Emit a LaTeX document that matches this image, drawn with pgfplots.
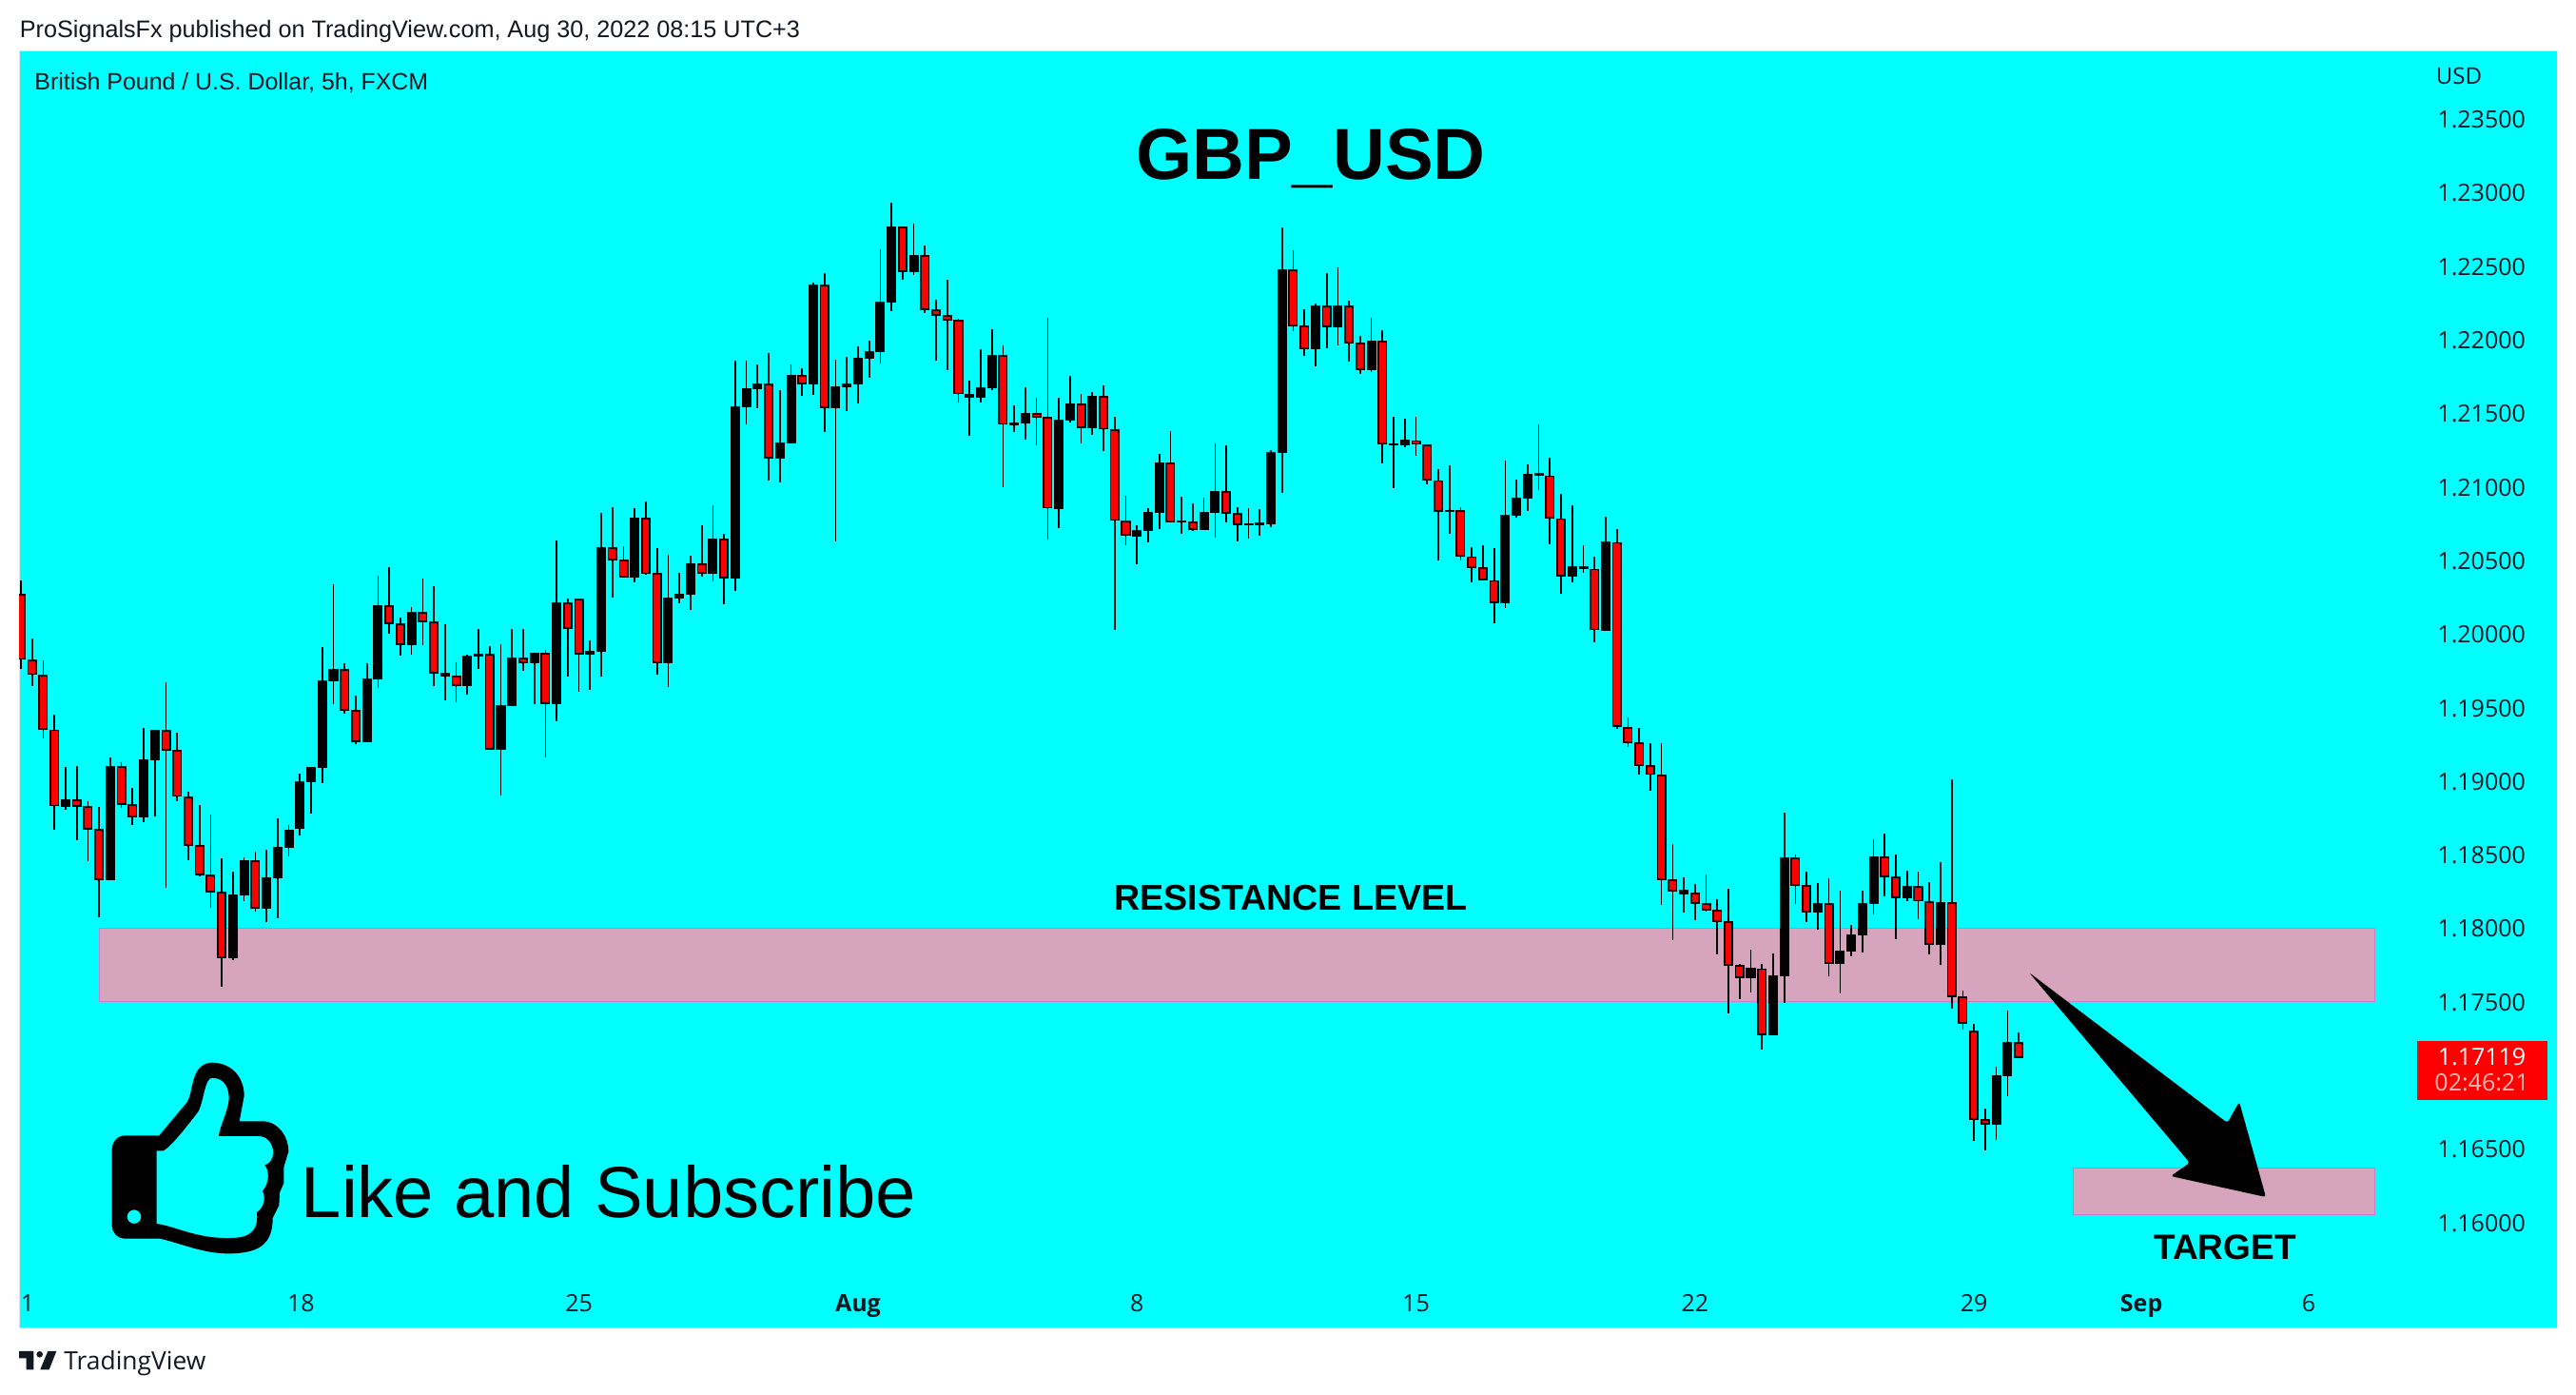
\documentclass[border=0pt]{standalone}
\usepackage{fontspec}
\usepackage{pgfplots}
\usepackage{pgfplotstable}
\pgfplotsset{compat=1.18}
\setmainfont{Liberation Sans}
\newfontfamily\tickfont{Open Sans}
\definecolor{tvcyan}{HTML}{00FFFF}
\definecolor{tvink}{HTML}{131722}
\definecolor{tvband}{HTML}{D6A5BD}
\definecolor{tvbandedge}{HTML}{C97FC6}
\definecolor{tvedge}{HTML}{E0E3EB}
\definecolor{tvtimer}{HTML}{FFB8B8}

% 5h candles, body edges are top/bot, wicks high/low
\pgfplotstableread{
x col high top bot low
0 red 1.20359 1.20261 1.19825 1.19760
1 red 1.19962 1.19815 1.19722 1.19643
2 red 1.19813 1.19711 1.19351 1.19287
3 red 1.19445 1.19340 1.18829 1.18666
4 black 1.19089 1.18866 1.18825 1.18802
5 red 1.19096 1.18866 1.18827 1.18595
6 red 1.18856 1.18818 1.18672 1.18453
7 red 1.18817 1.18663 1.18329 1.18071
8 black 1.19154 1.19092 1.18327 1.18321
9 red 1.19121 1.19090 1.18840 1.18815
10 red 1.18947 1.18831 1.18756 1.18699
11 black 1.19354 1.19138 1.18754 1.18718
12 black 1.19343 1.19338 1.19142 1.18757
13 red 1.19665 1.19336 1.19209 1.18272
14 red 1.19322 1.19200 1.18894 1.18860
15 red 1.18921 1.18883 1.18562 1.18460
16 red 1.18830 1.18553 1.18361 1.18350
17 red 1.18766 1.18353 1.18245 1.18136
18 red 1.18468 1.18236 1.17799 1.17599
19 black 1.18378 1.18219 1.17799 1.17780
20 black 1.18475 1.18452 1.18223 1.18181
21 red 1.18513 1.18450 1.18135 1.18110
22 black 1.18526 1.18336 1.18133 1.18039
23 black 1.18740 1.18542 1.18340 1.18065
24 black 1.18694 1.18659 1.18547 1.18485
25 black 1.19044 1.18989 1.18676 1.18628
26 black 1.19089 1.19084 1.18993 1.18776
27 black 1.19904 1.19674 1.19090 1.18983
28 black 1.20331 1.19752 1.19679 1.19520
29 red 1.19794 1.19750 1.19480 1.19456
30 red 1.19574 1.19472 1.19267 1.19249
31 black 1.19794 1.19687 1.19265 1.19259
32 black 1.20389 1.20185 1.19692 1.19630
33 red 1.20447 1.20183 1.20069 1.19999
34 red 1.20105 1.20060 1.19927 1.19850
35 black 1.20176 1.20140 1.19924 1.19857
36 red 1.20370 1.20138 1.20082 1.19921
37 red 1.20318 1.20073 1.19733 1.19643
38 black 1.20059 1.19726 1.19711 1.19546
39 red 1.19801 1.19705 1.19649 1.19533
40 black 1.19852 1.19843 1.19646 1.19585
41 black 1.20029 1.19856 1.19847 1.19758
42 red 1.19913 1.19856 1.19213 1.19208
43 black 1.19926 1.19507 1.19213 1.18898
44 black 1.20029 1.19830 1.19511 1.19506
45 red 1.20029 1.19830 1.19802 1.19745
46 black 1.19868 1.19862 1.19802 1.19518
47 red 1.19887 1.19862 1.19524 1.19156
48 black 1.20630 1.20205 1.19524 1.19402
49 red 1.20236 1.20205 1.20035 1.19706
50 red 1.20236 1.20231 1.19860 1.19603
51 black 1.19952 1.19877 1.19860 1.19615
52 black 1.20818 1.20580 1.19880 1.19706
53 red 1.20855 1.20578 1.20502 1.20245
54 red 1.20589 1.20494 1.20386 1.20380
55 black 1.20848 1.20780 1.20386 1.20348
56 red 1.20893 1.20778 1.20407 1.20398
57 red 1.20577 1.20403 1.19802 1.19719
58 black 1.20531 1.20237 1.19802 1.19635
59 black 1.20408 1.20265 1.20241 1.20206
60 black 1.20525 1.20470 1.20267 1.20160
61 red 1.20732 1.20468 1.20412 1.20387
62 black 1.20868 1.20638 1.20407 1.20354
63 red 1.20674 1.20636 1.20379 1.20199
64 black 1.21851 1.21537 1.20377 1.20290
65 black 1.21851 1.21660 1.21541 1.21422
66 black 1.21825 1.21692 1.21664 1.21532
67 red 1.21902 1.21690 1.21194 1.21040
68 black 1.21650 1.21291 1.21192 1.21027
69 black 1.21825 1.21750 1.21296 1.21290
70 red 1.21799 1.21748 1.21699 1.21616
71 black 1.22381 1.22365 1.21697 1.21622
72 red 1.22446 1.22363 1.21537 1.21370
73 black 1.21857 1.21673 1.21535 1.20626
74 black 1.21877 1.21692 1.21677 1.21512
75 black 1.21948 1.21867 1.21697 1.21564
76 black 1.21987 1.21912 1.21871 1.21739
77 black 1.22607 1.22249 1.21916 1.21836
78 black 1.22924 1.22759 1.22253 1.22191
79 red 1.22763 1.22757 1.22462 1.22405
80 black 1.22782 1.22565 1.22460 1.22437
81 red 1.22633 1.22563 1.22203 1.22178
82 red 1.22265 1.22195 1.22165 1.21855
83 red 1.22401 1.22156 1.22132 1.21791
84 red 1.22136 1.22124 1.21630 1.21571
85 black 1.21715 1.21621 1.21606 1.21344
86 black 1.21929 1.21667 1.21606 1.21571
87 black 1.22065 1.21887 1.21671 1.21655
88 red 1.21955 1.21884 1.21423 1.20995
89 black 1.21547 1.21427 1.21419 1.21370
90 black 1.21670 1.21492 1.21432 1.21319
91 red 1.21599 1.21492 1.21473 1.21280
92 red 1.22142 1.21464 1.20854 1.20639
93 black 1.21599 1.21447 1.20850 1.20717
94 black 1.21748 1.21557 1.21451 1.21435
95 red 1.21625 1.21555 1.21402 1.21293
96 black 1.21638 1.21609 1.21399 1.21351
97 red 1.21683 1.21606 1.21391 1.21241
98 red 1.21469 1.21380 1.20770 1.20025
99 red 1.20933 1.20759 1.20671 1.20601
100 black 1.20732 1.20697 1.20662 1.20471
101 black 1.20849 1.20819 1.20701 1.20620
102 black 1.21217 1.21156 1.20824 1.20711
103 red 1.21372 1.21154 1.20761 1.20756
104 black 1.20926 1.20760 1.20756 1.20678
105 red 1.20881 1.20753 1.20709 1.20698
106 black 1.20920 1.20819 1.20707 1.20702
107 black 1.21288 1.20962 1.20824 1.20652
108 red 1.21275 1.20960 1.20819 1.20756
109 red 1.20855 1.20811 1.20742 1.20626
110 black 1.20849 1.20744 1.20737 1.20646
111 black 1.20842 1.20747 1.20741 1.20665
112 black 1.21243 1.21227 1.20746 1.20724
113 black 1.22757 1.22469 1.21231 1.20956
114 red 1.22601 1.22467 1.22094 1.22056
115 red 1.22200 1.22085 1.21938 1.21888
116 black 1.22239 1.22223 1.21936 1.21817
117 red 1.22446 1.22221 1.22087 1.21939
118 black 1.22485 1.22223 1.22085 1.21959
119 red 1.22259 1.22221 1.21977 1.21849
120 red 1.22019 1.21969 1.21796 1.21765
121 black 1.22142 1.21984 1.21794 1.21778
122 red 1.22058 1.21981 1.21292 1.21157
123 black 1.21474 1.21287 1.21280 1.20989
124 black 1.21458 1.21309 1.21284 1.21264
125 red 1.21474 1.21307 1.21286 1.21209
126 red 1.21280 1.21275 1.21046 1.21015
127 red 1.21114 1.21034 1.20833 1.20497
128 black 1.21139 1.20835 1.20828 1.20677
129 red 1.20858 1.20829 1.20529 1.20497
130 red 1.20585 1.20517 1.20450 1.20347
131 red 1.20597 1.20441 1.20367 1.20361
132 red 1.20578 1.20355 1.20212 1.20070
133 black 1.21172 1.20799 1.20210 1.20174
134 black 1.21042 1.20917 1.20803 1.20788
135 black 1.21146 1.21078 1.20921 1.20832
136 black 1.21417 1.21082 1.21073 1.20975
137 red 1.21190 1.21067 1.20787 1.20606
138 red 1.20945 1.20776 1.20392 1.20269
139 black 1.20867 1.20450 1.20392 1.20347
140 black 1.20597 1.20453 1.20442 1.20412
141 red 1.20518 1.20434 1.20025 1.19941
142 black 1.20791 1.20619 1.20023 1.20017
143 red 1.20705 1.20614 1.19367 1.19349
144 red 1.19425 1.19355 1.19260 1.19229
145 red 1.19354 1.19251 1.19105 1.19042
146 red 1.19250 1.19096 1.19043 1.18931
147 red 1.19250 1.19032 1.18329 1.18155
148 red 1.18565 1.18320 1.18251 1.17916
149 black 1.18338 1.18250 1.18233 1.18103
150 red 1.18293 1.18230 1.18167 1.18052
151 red 1.18358 1.18158 1.18122 1.18110
152 red 1.18190 1.18113 1.18044 1.17819
153 red 1.18261 1.18035 1.17747 1.17418
154 red 1.17750 1.17738 1.17662 1.17515
155 black 1.17847 1.17721 1.17660 1.17560
156 red 1.17750 1.17716 1.17274 1.17172
157 black 1.17821 1.17669 1.17272 1.17267
158 black 1.18778 1.18471 1.17673 1.17489
159 red 1.18494 1.18469 1.18290 1.18162
160 red 1.18377 1.18281 1.18109 1.18039
161 black 1.18300 1.18161 1.18107 1.17987
162 red 1.18332 1.18158 1.17760 1.17670
163 black 1.18248 1.17837 1.17757 1.17554
164 black 1.18015 1.17947 1.17841 1.17806
165 black 1.18248 1.18161 1.17951 1.17832
166 black 1.18597 1.18477 1.18165 1.18090
167 red 1.18636 1.18475 1.18348 1.18213
168 red 1.18494 1.18339 1.18206 1.17922
169 black 1.18384 1.18277 1.18204 1.18181
170 red 1.18377 1.18275 1.18182 1.18058
171 red 1.18306 1.18171 1.17889 1.17819
172 black 1.18442 1.18167 1.17887 1.17748
173 red 1.19005 1.18165 1.17533 1.17450
174 red 1.17569 1.17525 1.17352 1.17308
175 red 1.17342 1.17292 1.16699 1.16551
176 red 1.16767 1.16690 1.16666 1.16486
177 black 1.17051 1.16990 1.16666 1.16558
178 black 1.17433 1.17216 1.16994 1.16855
179 red 1.17284 1.17214 1.17119 1.17114
}\candles

\pgfplotsset{
  wick/.style={draw=black, line width=0.85pt, forget plot},
  body/.style={draw=black, line width=0.85pt, fill=#1, forget plot},
  band/.style={fill=tvband, draw=tvbandedge, line width=0.4pt, forget plot},
}

\begin{document}
\begin{tikzpicture}
\path[use as bounding box, fill=white] (0,0) rectangle (1354pt,733pt);
\begin{axis}[
    at={(10pt,35pt)}, anchor=south west,
    scale only axis, width=1334pt, height=671pt,
    xmin=-0.17, xmax=227.24,
    ymin=1.15275, ymax=1.23955,
    axis background/.style={fill=tvcyan},
    axis line style={draw=tvedge, line width=0.5pt},
    major tick length=0, tick style={draw=none},
    xtick={0.6,25.1,50,75,100,125,150,175,190,205},
    xticklabels={1,18,25,\textbf{Aug},8,15,22,29,\textbf{Sep},6},
    ytick={1.16,1.165,1.175,1.18,1.185,1.19,1.195,1.2,1.205,1.21,1.215,1.22,1.225,1.23,1.235},
    yticklabels={1.16000,1.16500,1.17500,1.18000,1.18500,1.19000,1.19500,1.20000,1.20500,1.21000,1.21500,1.22000,1.22500,1.23000,1.23500},
    yticklabel pos=right,
    tick label style={font=\tickfont\fontsize{12.5pt}{15pt}\selectfont, text=tvink, inner sep=0pt},
    yticklabel style={anchor=west, xshift=-63pt, yshift=-0.7pt},
    xticklabel style={anchor=base, yshift=8.75pt},
  ]
\addplot[band] coordinates {(7,1.175) (210.9,1.175) (210.9,1.17995) (7,1.17995)} -- cycle;
\addplot[band] coordinates {(183.85,1.16051) (210.9,1.16051) (210.9,1.16364) (183.85,1.16364)} -- cycle;
\pgfplotsinvokeforeach{0,...,179}{
  \pgfplotstablegetelem{#1}{col}\of\candles\let\cc\pgfplotsretval
  \pgfplotstablegetelem{#1}{high}\of\candles\let\ch\pgfplotsretval
  \pgfplotstablegetelem{#1}{top}\of\candles\let\ct\pgfplotsretval
  \pgfplotstablegetelem{#1}{bot}\of\candles\let\cb\pgfplotsretval
  \pgfplotstablegetelem{#1}{low}\of\candles\let\cl\pgfplotsretval
  \pgfmathsetmacro\xl{#1-0.355}
  \pgfmathsetmacro\xr{#1+0.355}
  \edef\tmp{\noexpand\addplot[wick] coordinates {(#1,\cl) (#1,\ch)};
    \noexpand\addplot[body=\cc] coordinates {(\xl,\cb) (\xr,\cb) (\xr,\ct) (\xl,\ct)} -- cycle;}
  \tmp
}
\end{axis}

% everything below in reference pixels
\begin{scope}[yshift=733pt, x=0.5pt, y=-0.5pt]
  \node[anchor=west, inner sep=0pt, text=tvink, font=\fontsize{12.6pt}{15pt}\selectfont] at (20.5,33.5)
    {ProSignalsFx published on TradingView.com, Aug 30, 2022 08:15 UTC+3};
  \node[anchor=west, inner sep=0pt, text=tvink, font=\fontsize{12.45pt}{15pt}\selectfont] at (36,87)
    {British Pound / U.S. Dollar, 5h, FXCM};
  \node[anchor=center, inner sep=0pt, text=tvink, font=\tickfont\fontsize{12pt}{15pt}\selectfont] at (2585,80) {USD};
  \node[inner sep=0pt, font=\bfseries\fontsize{38pt}{44pt}\selectfont] at (1378,167) {GBP\_USD};
  \node[inner sep=0pt, font=\bfseries\fontsize{18.8pt}{22pt}\selectfont] at (1357,943.5) {RESISTANCE LEVEL};
  \node[inner sep=0pt, font=\bfseries\fontsize{18.5pt}{22pt}\selectfont] at (2339,1310.5) {TARGET};
  \node[inner sep=0pt, font=\fontsize{38pt}{46pt}\selectfont] at (640,1252) {Like and Subscribe};
  % arrow
  \fill[black, rounded corners=1.5pt] (2133,1022) -- (2341.5,1180) -- (2354,1158) -- (2382,1258)
    -- (2282,1236) -- (2302,1222) -- cycle;
  % last price tag
  \fill[red] (2540.5,1094) rectangle (2677.5,1156);
  \node[inner sep=0pt, text=white, font=\tickfont\fontsize{12.5pt}{15pt}\selectfont] at (2609,1111) {1.17119};
  \node[inner sep=0pt, text=tvtimer, font=\tickfont\fontsize{12.5pt}{15pt}\selectfont] at (2609,1138) {02:46:21};
  % tradingview logo and name
  \fill[tvink] (20,1420) -- (35.3,1420) -- (35.3,1439.3) -- (27.7,1439.3) -- (27.7,1427.3) -- (20,1427.3) -- cycle;
  \fill[tvink] (41.7,1423.3) circle (3.3);
  \fill[tvink] (50.3,1420) -- (59.3,1420) -- (51.7,1439.3) -- (42.3,1439.3) -- cycle;
  \node[anchor=west, inner sep=0pt, text=tvink, font=\tickfont\fontsize{13.2pt}{16pt}\selectfont] at (67,1433) {TradingView};
\end{scope}
% thumb icon, coordinates are 3x pixels
\begin{scope}[xshift=40pt, yshift=193pt, x=0.16667pt, y=-0.16667pt]
  \fill[black, even odd rule]
    (262,340) -- (350,235) .. controls (362,215) and (362,190) .. (372,160)
    .. controls (382,125) and (405,110) .. (430,110)
    .. controls (495,112) and (530,160) .. (530,215) -- (515,295) -- (590,295)
    .. controls (640,297) and (670,345) .. (670,390) -- (655,440) -- (655,490) -- (642,520) -- (640,560) -- (620,600)
    .. controls (620,680) and (580,712) .. (480,712)
    .. controls (400,712) and (330,680) .. (265,665) -- (155,665)
    .. controls (130,665) and (113,645) .. (113,625) -- (113,385)
    .. controls (113,360) and (130,340) .. (155,340) -- cycle
    (254,388) -- (275,388) .. controls (300,375) and (350,310) .. (385,265)
    .. controls (405,225) and (405,158) .. (430,158)
    .. controls (470,160) and (482,190) .. (482,225)
    .. controls (480,260) and (450,320) .. (450,342) -- (580,342)
    .. controls (610,345) and (622,375) .. (622,395)
    .. controls (620,415) and (610,430) .. (595,433)
    .. controls (610,450) and (610,490) .. (588,515)
    .. controls (600,540) and (590,570) .. (570,582)
    .. controls (575,630) and (560,665) .. (480,663)
    .. controls (380,665) and (310,625) .. (254,618) -- cycle
    (183,596) circle (22 and 22);
\end{scope}
\end{tikzpicture}
\end{document}
